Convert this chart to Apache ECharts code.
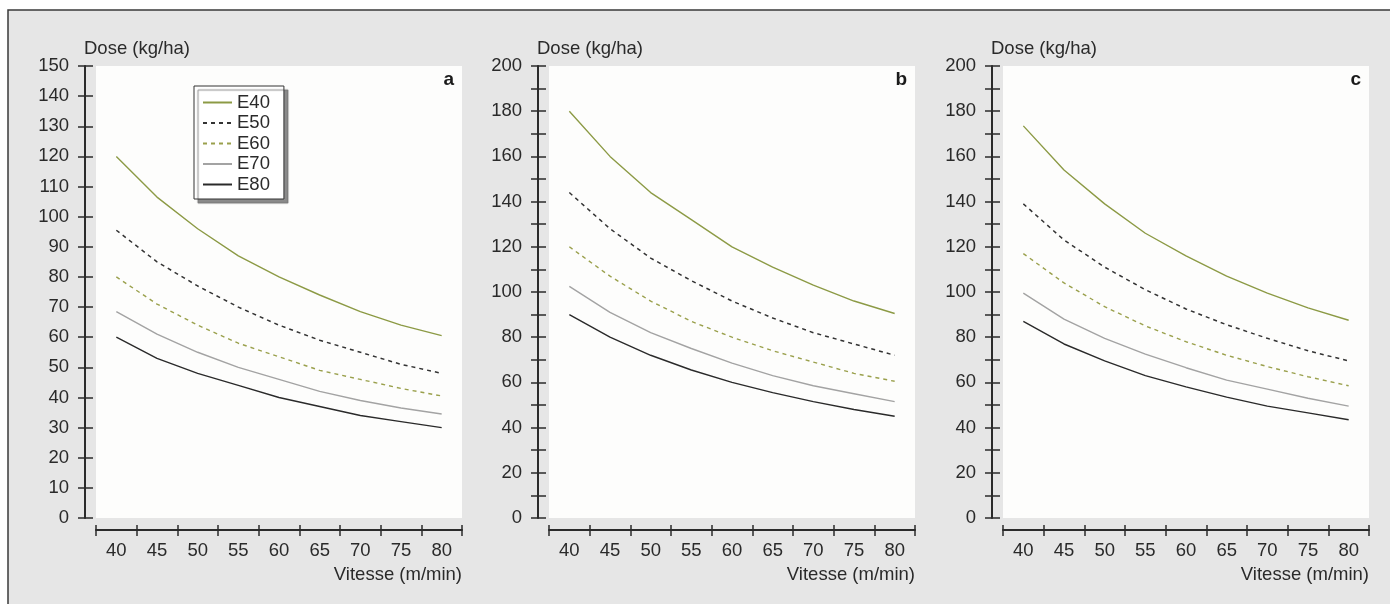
<!DOCTYPE html>
<html>
<head>
<meta charset="utf-8">
<script src="https://cdn.jsdelivr.net/npm/echarts@6/dist/echarts.min.js"></script>
<style>
html,body{margin:0;padding:0;background:#fff;}
#chart{width:1390px;height:604px;}
</style>
</head>
<body>
<div id="chart"></div>
<script>
const categories = ['40','45','50','55','60','65','70','75','80'];
const seriesNames = ['E40','E50','E60','E70','E80'];
const panelLabels = ['a','b','c'];
const yTitle = 'Dose (kg/ha)';
const xTitle = 'Vitesse (m/min)';

// Panel a
const a_E40 = [120, 106.5, 96, 87, 80, 74, 68.5, 64, 60.5];
const a_E50 = [95.5, 85, 77, 70, 64, 59, 55, 51, 48];
const a_E60 = [80, 71, 64, 58, 53.5, 49, 46, 43, 40.5];
const a_E70 = [68.5, 61, 55, 50, 46, 42, 39, 36.5, 34.5];
const a_E80 = [60, 53, 48, 44, 40, 37, 34, 32, 30];
// Panel b
const b_E40 = [180, 160, 144, 132, 120, 111, 103, 96, 90.5];
const b_E50 = [144, 128, 115, 105, 96, 88.5, 82, 77, 72];
const b_E60 = [120, 107, 96, 87, 80, 74, 69, 64, 60.5];
const b_E70 = [102.5, 91, 82, 75, 68.5, 63, 58.5, 55, 51.5];
const b_E80 = [90, 80, 72, 65.5, 60, 55.5, 51.5, 48, 45];
// Panel c
const c_E40 = [173.5, 154, 139, 126, 116, 107, 99.5, 93, 87.5];
const c_E50 = [139, 123, 111, 101, 92.5, 85.5, 79.5, 74, 69.5];
const c_E60 = [117, 104, 93.5, 85, 78, 72, 67, 62.5, 58.5];
const c_E70 = [99.5, 88, 79.5, 72.5, 66.5, 61, 57, 53, 49.5];
const c_E80 = [87, 77, 69.5, 63, 58, 53.5, 49.5, 46.5, 43.5];

const yMax = [150, 200, 200];
const yLabelStep = [10, 20, 20];
const yTickStep = 10;

const panels = [
  [a_E40, a_E50, a_E60, a_E70, a_E80],
  [b_E40, b_E50, b_E60, b_E70, b_E80],
  [c_E40, c_E50, c_E60, c_E70, c_E80]
];

const FONT = 'Liberation Sans, Arial, Helvetica, sans-serif';
const FS = 18.5;
const AX = '#2b2b2b';
const styles = [
  {color:'#8c9a45', type:'solid', width:1.4},
  {color:'#333333', type:[4,4], width:1.5},
  {color:'#9aa04c', type:[4,4], width:1.4},
  {color:'#a3a3a3', type:'solid', width:1.4},
  {color:'#2a2a2a', type:'solid', width:1.4}
];

const gridLeft = [96, 549, 1003];
const gridWidth = 366;
const gridTop = 66;
const gridBottom = 604 - 518;

const grids = [], xAxes = [], yAxes = [], series = [], graphics = [];

graphics.push({
  type:'rect', z:-100, silent:true,
  shape:{x:8, y:10, width:1400, height:620},
  style:{fill:'#e6e6e6', stroke:'#3a3a3a', lineWidth:1.5}
});

for (let p = 0; p < 3; p++) {
  grids.push({
    left: gridLeft[p], top: gridTop, width: gridWidth, bottom: gridBottom,
    show: true, backgroundColor: '#fdfdfc', borderWidth: 0
  });
  const step = yLabelStep[p];
  xAxes.push({
    type:'category', gridIndex:p, data:categories, position:'bottom', offset:12,
    boundaryGap:true,
    axisLine:{show:true, onZero:false, lineStyle:{color:AX, width:2}},
    axisTick:{show:true, interval:0, length:6, lineStyle:{color:AX, width:1.5}},
    axisLabel:{show:true, interval:0, margin:11, color:'#2a2a2a', fontSize:FS, fontFamily:FONT},
    splitLine:{show:false}
  });
  xAxes.push({
    type:'category', gridIndex:p, data:categories, position:'bottom', offset:12,
    boundaryGap:true,
    axisLine:{show:false, onZero:false},
    axisTick:{show:true, inside:true, interval:0, length:5, lineStyle:{color:AX, width:1.5}},
    axisLabel:{show:false},
    splitLine:{show:false}
  });
  yAxes.push({
    type:'value', gridIndex:p, min:0, max:yMax[p], interval:yTickStep, position:'left', offset:11,
    name: yTitle, nameLocation:'end', nameGap:17,
    nameTextStyle:{align:'left', verticalAlign:'middle', fontSize:FS, color:'#2a2a2a', fontFamily:FONT, padding:[0,0,0,-1]},
    axisLine:{show:true, onZero:false, lineStyle:{color:AX, width:2}},
    axisTick:{show:true, length:7, lineStyle:{color:AX, width:1.5}},
    axisLabel:{show:true, margin:16, color:'#2a2a2a', fontSize:FS, fontFamily:FONT,
      formatter: (function(s){ return function(v){ return (v % s === 0) ? String(v) : ''; }; })(step)},
    splitLine:{show:false}
  });
  yAxes.push({
    type:'value', gridIndex:p, min:0, max:yMax[p], interval:yTickStep, position:'left', offset:11,
    axisLine:{show:false, onZero:false},
    axisTick:{show:true, inside:true, length:8, lineStyle:{color:AX, width:1.5}},
    axisLabel:{show:false},
    splitLine:{show:false}
  });
  for (let s = 0; s < 5; s++) {
    series.push({
      name: seriesNames[s], type:'line', xAxisIndex: p*2, yAxisIndex: p*2,
      data: panels[p][s], symbol:'none', showSymbol:false, smooth:false, silent:true,
      lineStyle:{color:styles[s].color, type:styles[s].type, width:styles[s].width},
      itemStyle:{color:styles[s].color},
      animation:false
    });
  }
  graphics.push({
    type:'text', right: 1390 - (gridLeft[p] + gridWidth) + 8, top: 70,
    style:{text: panelLabels[p], font:'bold 19px ' + FONT, fill:'#1a1a1a'}
  });
  graphics.push({
    type:'text', right: 1390 - (gridLeft[p] + gridWidth), top: 565,
    style:{text: xTitle, font:FS + 'px ' + FONT, fill:'#2a2a2a'}
  });
}

const chart = echarts.init(document.getElementById('chart'), null, {renderer:'canvas'});
chart.setOption({
  animation:false,
  backgroundColor:'transparent',
  textStyle:{fontFamily:FONT},
  grid: grids,
  xAxis: xAxes,
  yAxis: yAxes,
  series: series,
  graphic: graphics,
  legend: {
    data: seriesNames, orient:'vertical', left:194, top:86,
    itemWidth:29, itemHeight:14, itemGap:1.5, itemTextGap:6,
    padding:[7,14,5,8],
    itemStyle:{opacity:0},
    backgroundColor:'#ffffff', borderColor:'#333', borderWidth:1,
    shadowColor:'rgba(110,110,110,0.8)', shadowBlur:1, shadowOffsetX:4, shadowOffsetY:4,
    selectedMode:false,
    textStyle:{fontSize:FS, color:'#2a2a2a', fontFamily:FONT, lineHeight:18}
  }
});
</script>
</body>
</html>
